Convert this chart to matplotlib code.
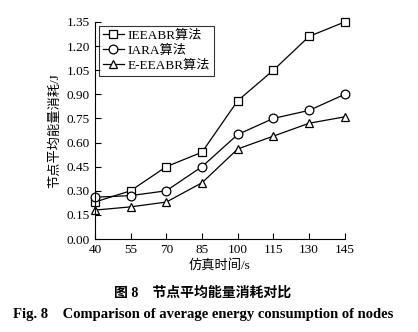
import matplotlib.pyplot as plt

plt.rcParams['font.family'] = ['Liberation Serif', 'Noto Sans CJK SC']
plt.rcParams['axes.unicode_minus'] = False

t = [40, 55, 70, 85, 100, 115, 130, 145]
ieeabr = [0.23, 0.30, 0.45, 0.54, 0.86, 1.05, 1.26, 1.35]
iara = [0.26, 0.27, 0.30, 0.45, 0.65, 0.75, 0.80, 0.90]
eeeabr = [0.18, 0.20, 0.23, 0.35, 0.56, 0.64, 0.72, 0.76]
yticks = [0.0, 0.15, 0.30, 0.45, 0.60, 0.75, 0.90, 1.05, 1.20, 1.35]

fig = plt.figure(figsize=(4.18, 3.32), dpi=100)
ax = fig.add_axes([0.227, 0.280, 0.598, 0.654])

kw = dict(color='black', lw=0.9, mfc='white', mec='black', mew=0.9, ms=6.3)
ax.plot(t, ieeabr, marker='s', label='IEEABR算法', **kw)
ax.plot(t, iara, marker='o', label='IARA算法', **kw)
ax.plot(t, eeeabr, marker='^', label='E-EEABR算法', **kw)

ax.set_xlim(40, 145)
ax.set_ylim(0, 1.35)
ax.set_xticks(t)
ax.set_yticks(yticks)
ax.set_yticklabels(['%.2f' % v for v in yticks])
ax.tick_params(direction='in', labelsize=9.5, length=4, width=0.8)
ax.spines['top'].set_visible(False)
ax.spines['right'].set_visible(False)
for s in ('left', 'bottom'):
    ax.spines[s].set_linewidth(0.8)
for ln in ax.lines:
    ln.set_clip_on(False)

ax.set_xlabel('仿真时间/s', fontsize=9.5, labelpad=2)
ax.set_ylabel('节点平均能量消耗/J', fontsize=9.5, labelpad=4)

leg = ax.legend(loc='upper left', fontsize=9.5, frameon=True, fancybox=False,
                edgecolor='black', handlelength=1.6, handletextpad=0.3,
                borderpad=0.3, labelspacing=0.2, borderaxespad=0.3)
leg.get_frame().set_linewidth(0.8)

fig.text(0.485, 0.117, '图 8    节点平均能量消耗对比', ha='center', va='center',
         fontsize=10, fontweight='bold')
fig.text(0.485, 0.052, 'Fig. 8    Comparison of average energy consumption of nodes',
         ha='center', va='center', fontsize=10.5, fontweight='bold')

fig.savefig('out.png', dpi=100)
